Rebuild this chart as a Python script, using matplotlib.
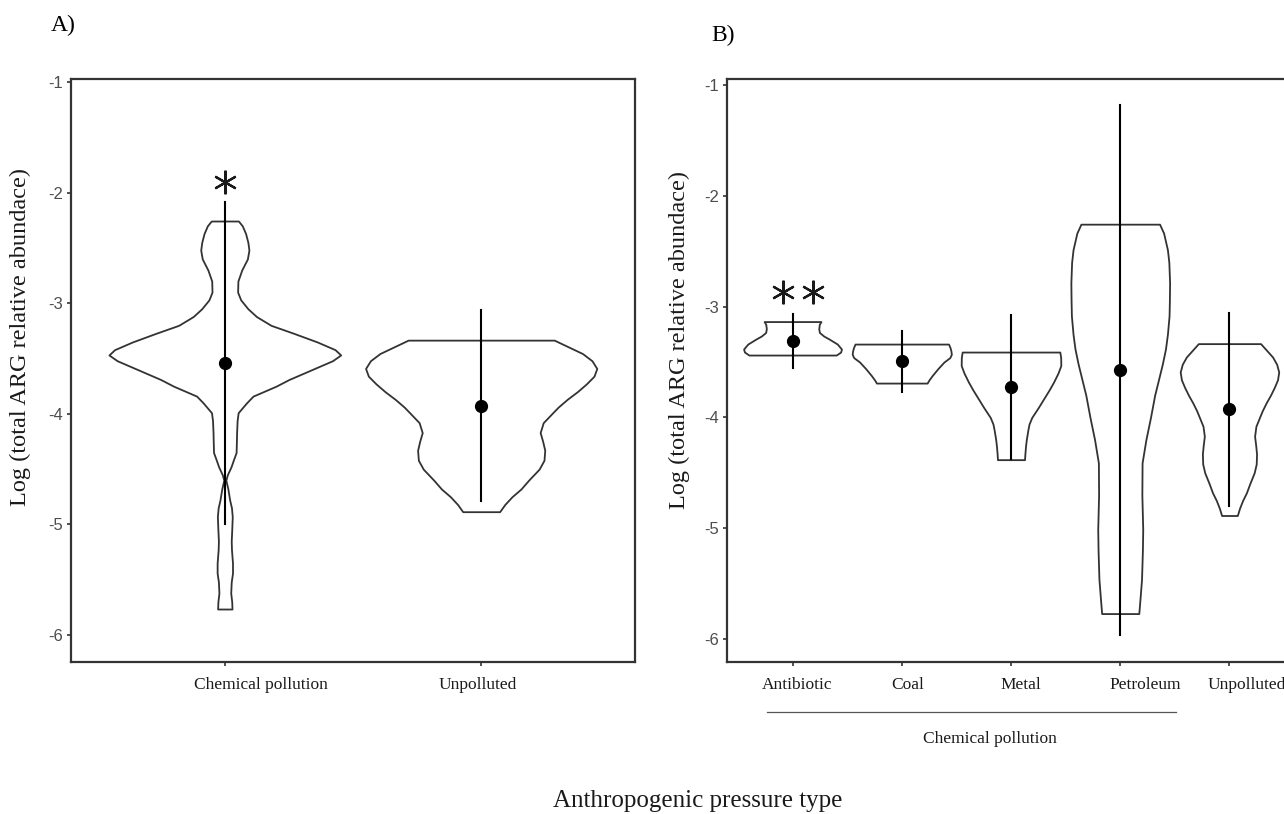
import matplotlib
matplotlib.use("Agg")
import matplotlib.pyplot as plt
import matplotlib.transforms as mtransforms

# ---- data ----
# violin outlines: (log value, half width in category units), top -> bottom
chem_all_y = [-2.257, -2.30, -2.37, -2.45, -2.52, -2.60, -2.70, -2.80, -2.90, -2.97, -3.05, -3.12,
              -3.20, -3.27, -3.35, -3.42, -3.468, -3.52, -3.58, -3.69, -3.75, -3.84, -3.90, -3.99,
              -4.06, -4.17, -4.27, -4.35, -4.42, -4.48, -4.55, -4.60, -4.68, -4.78, -4.85, -4.93,
              -5.05, -5.15, -5.23, -5.35, -5.44, -5.52, -5.62, -5.70, -5.765]
chem_all_w = [0.053, 0.068, 0.081, 0.090, 0.094, 0.088, 0.066, 0.051, 0.050, 0.062, 0.090, 0.123,
              0.180, 0.266, 0.360, 0.430, 0.452, 0.420, 0.360, 0.250, 0.200, 0.110, 0.085, 0.052,
              0.048, 0.046, 0.045, 0.044, 0.033, 0.024, 0.010, 0.004, 0.012, 0.019, 0.026, 0.029,
              0.027, 0.025, 0.026, 0.030, 0.030, 0.025, 0.023, 0.027, 0.028]

unpol_y = [-3.334, -3.40, -3.455, -3.52, -3.59, -3.66, -3.73, -3.80, -3.87, -3.94, -4.00, -4.08,
           -4.17, -4.25, -4.33, -4.42, -4.50, -4.60, -4.68, -4.75, -4.82, -4.885]
unpol_w = [0.285, 0.345, 0.395, 0.432, 0.451, 0.440, 0.410, 0.375, 0.335, 0.300, 0.275, 0.242,
           0.230, 0.240, 0.248, 0.245, 0.226, 0.185, 0.155, 0.120, 0.092, 0.072]

antib_y = [-3.135, -3.16, -3.20, -3.233, -3.265, -3.293, -3.338, -3.383, -3.41, -3.437]
antib_w = [0.260, 0.245, 0.240, 0.246, 0.285, 0.336, 0.410, 0.448, 0.440, 0.400]

coal_y = [-3.338, -3.37, -3.40, -3.43, -3.46, -3.50, -3.56, -3.62, -3.66, -3.69]
coal_w = [0.428, 0.442, 0.450, 0.454, 0.440, 0.386, 0.330, 0.280, 0.250, 0.232]

metal_y = [-3.41, -3.46, -3.532, -3.60, -3.68, -3.75, -3.83, -3.91, -4.00, -4.06, -4.11, -4.20,
           -4.26, -4.33, -4.381]
metal_w = [0.447, 0.455, 0.456, 0.430, 0.390, 0.350, 0.300, 0.250, 0.190, 0.165, 0.155, 0.140,
           0.133, 0.127, 0.124]

petro_y = [-2.256, -2.336, -2.486, -2.60, -2.785, -2.95, -3.084, -3.25, -3.383, -3.52, -3.66,
           -3.80, -4.00, -4.20, -4.41, -4.70, -5.01, -5.20, -5.46, -5.65, -5.77]
petro_w = [0.360, 0.397, 0.432, 0.445, 0.452, 0.450, 0.447, 0.432, 0.414, 0.385, 0.350,
           0.315, 0.277, 0.235, 0.200, 0.198, 0.206, 0.203, 0.195, 0.180, 0.170]

# mean and sd per group
a_labels = ["Chemical pollution", "Unpolluted"]
a_means = [-3.54, -3.925]
a_sds = [1.455, 0.862]

b_labels = ["Antibiotic", "Coal", "Metal", "Petroleum", "Unpolluted"]
b_means = [-3.31, -3.493, -3.726, -3.571, -3.925]
b_sds = [0.245, 0.276, 0.648, 2.39, 0.87]

a_violins = [(chem_all_y, chem_all_w), (unpol_y, unpol_w)]
b_violins = [(antib_y, antib_w), (coal_y, coal_w), (metal_y, metal_w),
             (petro_y, petro_w), (unpol_y, unpol_w)]

SERIF = "Liberation Serif"
SANS = "Liberation Sans"
EDGE = "#333333"


def draw_violin(ax, pos, ys, ws):
    left = [pos - w for w in ws]
    right = [pos + w for w in ws]
    ax.fill_betweenx(ys, left, right, facecolor="white", edgecolor=EDGE, linewidth=1.3, zorder=2)


def draw_panel(ax, violins, means, sds, labels, label_shift):
    for i, (ys, ws) in enumerate(violins):
        draw_violin(ax, i, ys, ws)
        ax.plot([i, i], [means[i] - sds[i], means[i] + sds[i]], color="black", lw=1.5, zorder=3)
        ax.plot(i, means[i], "o", color="black", ms=8.5, zorder=4)

    ax.set_xlim(-0.6, len(violins) - 1 + 0.6)
    ax.set_xticks(range(len(violins)))
    ax.set_xticklabels([])
    ax.set_yticks([-1, -2, -3, -4, -5, -6])
    ax.set_yticklabels(["-1", "-2", "-3", "-4", "-5", "-6"], family=SANS, fontsize=12, color="#4d4d4d")
    ax.tick_params(axis="both", length=3, width=1.2, color=EDGE, pad=3)
    for sp in ax.spines.values():
        sp.set_color(EDGE)
        sp.set_linewidth(1.6)

    # category labels (nudged like the original)
    trans = mtransforms.blended_transform_factory(ax.transData, ax.transAxes)
    for i, lab in enumerate(labels):
        off = mtransforms.ScaledTranslation(label_shift[i] / 100, 0, ax.figure.dpi_scale_trans)
        ax.text(i, -0.04, lab, transform=trans + off, ha="center", va="center",
                family=SERIF, fontsize=12.5, color="#1a1a1a")


def star(ax, x, y):
    # six-armed significance asterisk with a vertical arm
    ax.plot(x, y, marker=(6, 2, 0), ms=17, mew=1.6, color="#1a1a1a", zorder=5)


fig = plt.figure(figsize=(12.84, 8.14), dpi=100)

axA = fig.add_axes([71 / 1284, 1 - 662 / 814, 564 / 1284, 583 / 814])
axB = fig.add_axes([727 / 1284, 1 - 662 / 814, 568 / 1284, 583 / 814])

draw_panel(axA, a_violins, a_means, a_sds, a_labels, [36, -3])
axA.set_ylim(-6.244, -0.973)
star(axA, 0, -1.904)

draw_panel(axB, b_violins, b_means, b_sds, b_labels, [5, 6, 10, 25, 17])
axB.set_ylim(-6.207, -0.946)
star(axB, -0.09, -2.87)
star(axB, 0.185, -2.87)

# group bracket under the chemical categories
transB = mtransforms.blended_transform_factory(axB.transData, axB.transAxes)
axB.plot([-0.23, 3.51], [-0.086, -0.086], transform=transB, color="#555555", lw=0.9, clip_on=False)
axB.text(1.81, -0.132, "Chemical pollution", transform=transB, ha="center", va="center",
         family=SERIF, fontsize=12.5, color="#1a1a1a")

ylab = "Log (total ARG relative abundace)"
fig.text(20 / 1284, 1 - 337 / 814, ylab, rotation=90, ha="center", va="center",
         family=SERIF, fontsize=17.5, color="#1a1a1a")
fig.text(679 / 1284, 1 - 340 / 814, ylab, rotation=90, ha="center", va="center",
         family=SERIF, fontsize=17.5, color="#1a1a1a")

fig.text(63 / 1284, 1 - 25 / 814, "A)", ha="center", va="center", family=SERIF, fontsize=17)
fig.text(723 / 1284, 1 - 35 / 814, "B)", ha="center", va="center", family=SERIF, fontsize=17)
fig.text(698 / 1284, 1 - 801 / 814, "Anthropogenic pressure type", ha="center", va="center",
         family=SERIF, fontsize=18, color="#1a1a1a")

fig.savefig("out.png", dpi=100, facecolor="white")
